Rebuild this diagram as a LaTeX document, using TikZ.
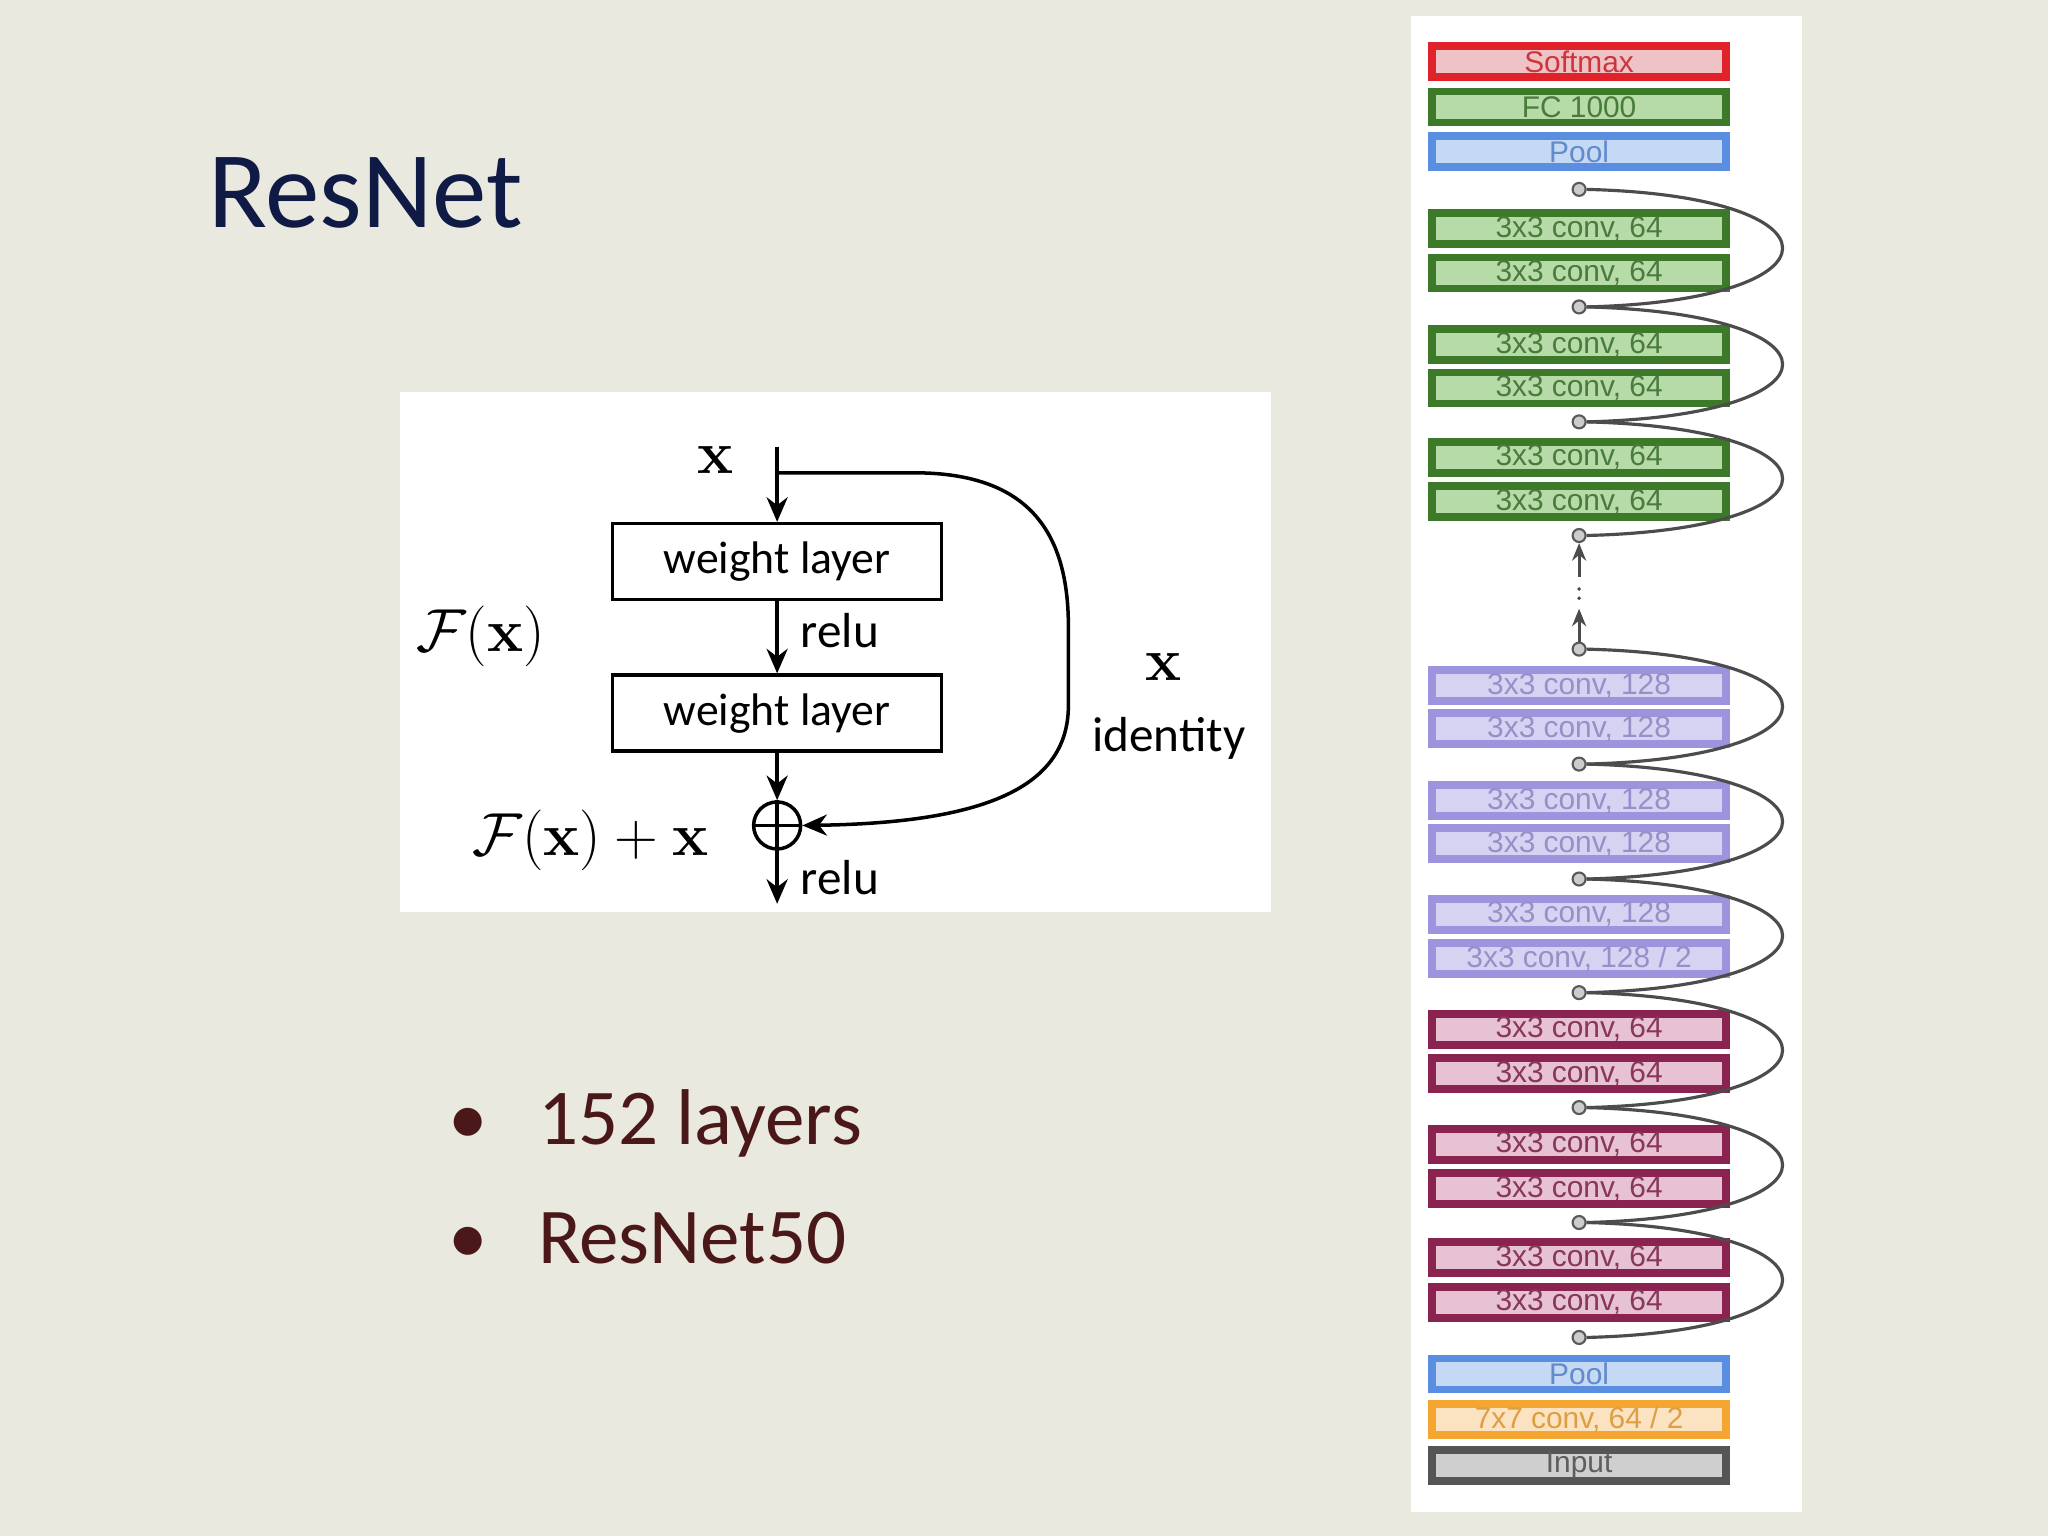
\documentclass[tikz,border=0pt]{standalone}
\usepackage[no-math]{fontspec}
\setmainfont{Carlito}
\newfontfamily\boxfont{Liberation Sans}
\usetikzlibrary{arrows.meta,backgrounds}
\definecolor{bgc}{HTML}{E9E9DF}
\definecolor{titlec}{HTML}{0F1A45}
\definecolor{bulc}{HTML}{4A1818}
\definecolor{redE}{HTML}{E0222A}\definecolor{redF}{HTML}{EFC3C6}
\definecolor{grnE}{HTML}{3C7A2A}\definecolor{grnF}{HTML}{B7DBA8}
\definecolor{bluE}{HTML}{5A8EE0}\definecolor{bluF}{HTML}{C5D8F4}
\definecolor{purE}{HTML}{9C94DC}\definecolor{purF}{HTML}{D6D2F2}
\definecolor{marE}{HTML}{8A2350}\definecolor{marF}{HTML}{E6C2D2}
\definecolor{orgE}{HTML}{F5A632}\definecolor{orgF}{HTML}{FBE2C0}
\definecolor{gryE}{HTML}{555555}\definecolor{gryF}{HTML}{CFCFCF}
\tikzset{
  layer/.style={draw=#1E, fill=#1F, line width=2.2pt, inner sep=0pt,
    minimum width=2.94cm, minimum height=0.31cm, font=\boxfont\fontsize{8.5}{9}\selectfont, text=#1E!80!gray},
  joint/.style={circle, draw=gray!70!black, fill=gray!40, inner sep=0pt, minimum size=0.13cm, line width=0.6pt},
  skip/.style={draw=gray!60!black, line width=0.9pt},
  wl/.style={draw, line width=1pt, minimum width=3.29cm, minimum height=0.76cm, font=\fontsize{13}{14}\selectfont},
  lbl/.style={font=\fontsize{14}{15}\selectfont},
  ar/.style={-{Stealth[length=7pt,width=6pt]}, line width=1pt}
}
\begin{document}
\begin{tikzpicture}[x=0.013061cm, y=-0.013061cm]
\fill[bgc] (0,0) rectangle (1568,1176);
\useasboundingbox (0,0) rectangle (1568,1176);
% title and bullets
\node[text=titlec, font=\fontsize{31}{34}\selectfont, anchor=west] (title) at (150,148) {ResNet};
\node[text=bulc, font=\fontsize{22.5}{26}\selectfont, anchor=west] (bl1) at (334,860) {•\hspace{0.5cm}152 layers};
\node[text=bulc, font=\fontsize{22.5}{26}\selectfont, anchor=west] (bl2) at (334,948) {•\hspace{0.5cm}ResNet50};
% residual block figure
\fill[white] (306,300) rectangle (973,698);
\node[wl] (w1) at (595,430) {weight layer};
\node[wl] (w2) at (595,546) {weight layer};
\node[circle, draw, line width=1pt, minimum size=0.47cm, inner sep=0pt] (plus) at (595,632) {};
\draw[line width=1pt] (plus.north) -- (plus.south) (plus.west) -- (plus.east);
\coordinate (xin) at (595,342);
\coordinate (out) at (595,692);
\node[font=\fontsize{17}{18}\selectfont] (xl) at (548,352) {$\mathbf{x}$};
\node[lbl] (r1) at (643,483) {relu};
\node[lbl] (r2) at (643,672) {relu};
\node[font=\fontsize{19}{20}\selectfont] (fx) at (368,487) {$\mathcal{F}(\mathbf{x})$};
\node[font=\fontsize{19}{20}\selectfont] (fxx) at (452,643) {$\mathcal{F}(\mathbf{x})+\mathbf{x}$};
\node[font=\fontsize{17}{18}\selectfont] (xr) at (891,511) {$\mathbf{x}$};
\node[lbl] (idl) at (895,565) {identity};
\draw[ar] (xin) -- (w1);
\draw[ar] (w1) -- (w2);
\draw[ar] (w2) -- (plus);
\draw[ar] (plus) -- (out);
\draw[ar] (595,362) -- (700,362) .. controls (790,362) and (818,410) .. (818,480)
  -- (818,540) .. controls (818,600) and (760,630) .. (plus.east);
% right column
\fill[white] (1080,12) rectangle (1380,1158);
\foreach \n/\y/\c/\t in {s1/47/red/Softmax, fc/82/grn/FC 1000, p1/116/blu/Pool,
  a1/175/grn/{3x3 conv, 64}, a2/209/grn/{3x3 conv, 64}, a3/264/grn/{3x3 conv, 64},
  a4/297/grn/{3x3 conv, 64}, a5/350/grn/{3x3 conv, 64}, a6/384/grn/{3x3 conv, 64},
  b1/525/pur/{3x3 conv, 128}, b2/558/pur/{3x3 conv, 128}, b3/613/pur/{3x3 conv, 128},
  b4/646/pur/{3x3 conv, 128}, b5/700/pur/{3x3 conv, 128}, b6/734/pur/{3x3 conv, 128 / 2},
  c1/788/mar/{3x3 conv, 64}, c2/822/mar/{3x3 conv, 64}, c3/876/mar/{3x3 conv, 64},
  c4/910/mar/{3x3 conv, 64}, c5/963/mar/{3x3 conv, 64}, c6/997/mar/{3x3 conv, 64},
  p2/1052/blu/Pool, c7/1087/org/{7x7 conv, 64 / 2}, in/1122/gry/Input}
  \node[layer=\c] (\n) at (1209,\y) {\t};
\foreach \n/\y in {j1/145,j2/235,j3/323,j4/410,j5/497,j6/585,j7/673,j8/760,j9/848,j10/936,j11/1024}
  \node[joint] (\n) at (1209,\y) {};
\coordinate (d1) at (1209,442);
\coordinate (d2) at (1209,466);
\begin{scope}[on background layer]
\draw[skip] (in) -- (c7) -- (p2) -- (j11) -- (c6) -- (c5) -- (j10) -- (c4) -- (c3) -- (j9) -- (c2) -- (c1) -- (j8)
  -- (b6) -- (b5) -- (j7) -- (b4) -- (b3) -- (j6) -- (b2) -- (b1) -- (j5);
\draw[skip] (j4) -- (a6) -- (a5) -- (j3) -- (a4) -- (a3) -- (j2) -- (a2) -- (a1) -- (j1) -- (p1) -- (fc) -- (s1);
\end{scope}
\draw[skip, -{Stealth[length=5pt,width=4pt]}] (d1) -- (j4);
\draw[skip, -{Stealth[length=5pt,width=4pt]}] (j5) -- (d2);
\fill[gray!60!black] (1209,451) circle (1.5) (1209,458) circle (1.5);
\foreach \u/\v in {j1/j2,j2/j3,j3/j4,j5/j6,j6/j7,j7/j8,j8/j9,j9/j10,j10/j11}
  \draw[skip] (\u.east) .. controls +(200,5) and +(200,-5) .. (\v.east);
\end{tikzpicture}
\end{document}
